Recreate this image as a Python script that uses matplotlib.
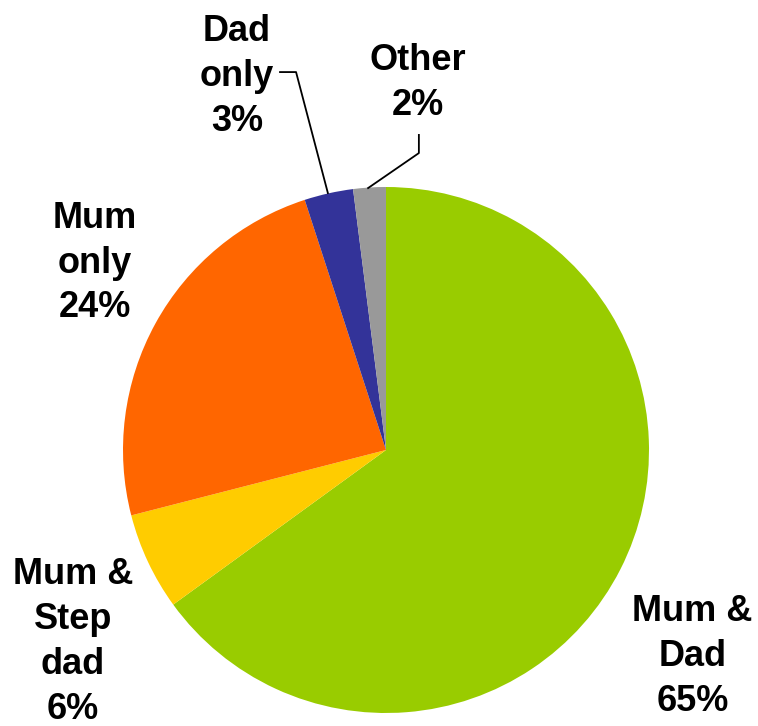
import matplotlib
matplotlib.use("Agg")
import matplotlib.pyplot as plt

# living arrangements
labels = ["Mum &\nDad", "Mum &\nStep\ndad", "Mum\nonly", "Dad\nonly", "Other"]
values = [65, 6, 24, 3, 2]
colors = ["#99CC00", "#FFCC00", "#FF6600", "#333399", "#999999"]

# label anchor points (pie radius units)
label_pos = [(1.165, -0.785), (-1.19, -0.73), (-1.106, 0.71), (-0.567, 1.42), (0.122, 1.395)]

plt.rcParams['font.family'] = ['Liberation Sans', 'DejaVu Sans']

fig = plt.figure(figsize=(7.58, 7.26), dpi=100)
cx, cy, r = 386, 450, 263
W, H = 758, 726
ax = fig.add_axes([(cx - r) / W, (H - cy - r) / H, 2 * r / W, 2 * r / H])

ax.pie(values, colors=colors, startangle=90, counterclock=False, radius=1,
       wedgeprops=dict(linewidth=0))
ax.set_xlim(-1, 1)
ax.set_ylim(-1, 1)
ax.set_aspect('equal')
ax.axis('off')

for lab, v, (x, y) in zip(labels, values, label_pos):
    ax.text(x, y, f"{lab}\n{v}%", ha='center', va='center', fontsize=26,
            fontweight='bold', linespacing=1.36, clip_on=False)

# leader lines for the two small slices
ax.plot([-0.221, -0.342, -0.403], [0.977, 1.437, 1.437], color='black', lw=1.3, clip_on=False)
ax.plot([-0.068, 0.125, 0.125], [0.996, 1.129, 1.198], color='black', lw=1.3, clip_on=False)

fig.savefig("out.png", dpi=100)
